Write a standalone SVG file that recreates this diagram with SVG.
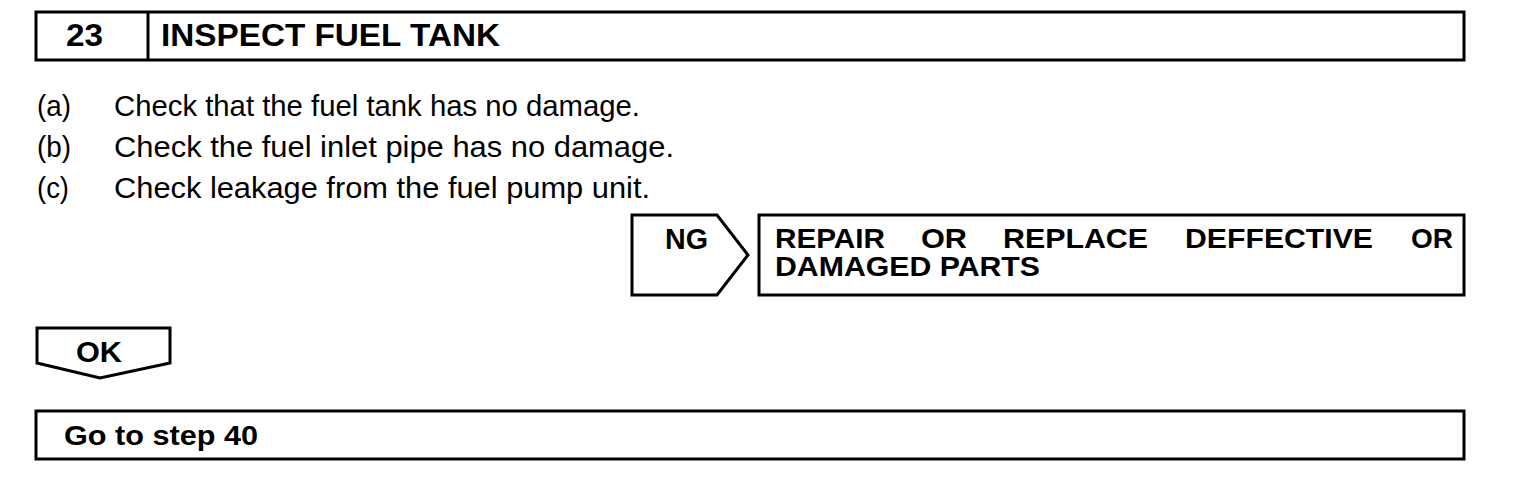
<svg xmlns="http://www.w3.org/2000/svg" width="1536" height="500" viewBox="0 0 1536 500">
<style>
.box{fill:#fff;stroke:#000;stroke-width:3}
.b{font-family:"Liberation Sans",Arial,sans-serif;font-weight:bold;fill:#000}
.r{font-family:"Liberation Sans",Arial,sans-serif;fill:#000}
</style>
<rect width="1536" height="500" fill="#fff"/>
<g id="header">
<rect class="box" x="36" y="12" width="1428" height="48"/>
<line x1="148" y1="12" x2="148" y2="60" stroke="#000" stroke-width="3"/>
<text class="b" x="66" y="46" font-size="31" textLength="37" lengthAdjust="spacingAndGlyphs">23</text>
<text class="b" x="161" y="46" font-size="31" textLength="339" lengthAdjust="spacingAndGlyphs">INSPECT FUEL TANK</text>
</g>
<g id="steps">
<text class="r" x="37" y="116" font-size="30" textLength="34" lengthAdjust="spacingAndGlyphs">(a)</text>
<text class="r" x="114" y="116" font-size="30" textLength="526" lengthAdjust="spacingAndGlyphs">Check that the fuel tank has no damage.</text>
<text class="r" x="37" y="157" font-size="30" textLength="34" lengthAdjust="spacingAndGlyphs">(b)</text>
<text class="r" x="114" y="157" font-size="30" textLength="560" lengthAdjust="spacingAndGlyphs">Check the fuel inlet pipe has no damage.</text>
<text class="r" x="37" y="198" font-size="30" textLength="32" lengthAdjust="spacingAndGlyphs">(c)</text>
<text class="r" x="114" y="198" font-size="30" textLength="536" lengthAdjust="spacingAndGlyphs">Check leakage from the fuel pump unit.</text>
</g>
<g id="ng">
<polygon class="box" points="632,215 717,215 748,255 717,295 632,295"/>
<text class="b" x="665" y="249" font-size="29" textLength="43" lengthAdjust="spacingAndGlyphs">NG</text>
</g>
<g id="repair">
<rect class="box" x="759" y="215" width="705" height="80"/>
<text class="b" x="775" y="248" font-size="28" textLength="110" lengthAdjust="spacingAndGlyphs">REPAIR</text>
<text class="b" x="921" y="248" font-size="28" textLength="46" lengthAdjust="spacingAndGlyphs">OR</text>
<text class="b" x="1003" y="248" font-size="28" textLength="145" lengthAdjust="spacingAndGlyphs">REPLACE</text>
<text class="b" x="1185" y="248" font-size="28" textLength="188" lengthAdjust="spacingAndGlyphs">DEFFECTIVE</text>
<text class="b" x="1411" y="248" font-size="28" textLength="42" lengthAdjust="spacingAndGlyphs">OR</text>
<text class="b" x="775" y="276" font-size="28" textLength="265" lengthAdjust="spacingAndGlyphs">DAMAGED PARTS</text>
</g>
<g id="ok">
<polygon class="box" points="37,328 170,328 170,363 100,378 37,363"/>
<text class="b" x="76" y="362" font-size="29" textLength="46" lengthAdjust="spacingAndGlyphs">OK</text>
</g>
<g id="goto">
<rect class="box" x="36" y="411" width="1428" height="48"/>
<text class="b" x="64" y="445" font-size="28" textLength="194" lengthAdjust="spacingAndGlyphs">Go to step 40</text>
</g>
<g id="connectors"></g>
</svg>
